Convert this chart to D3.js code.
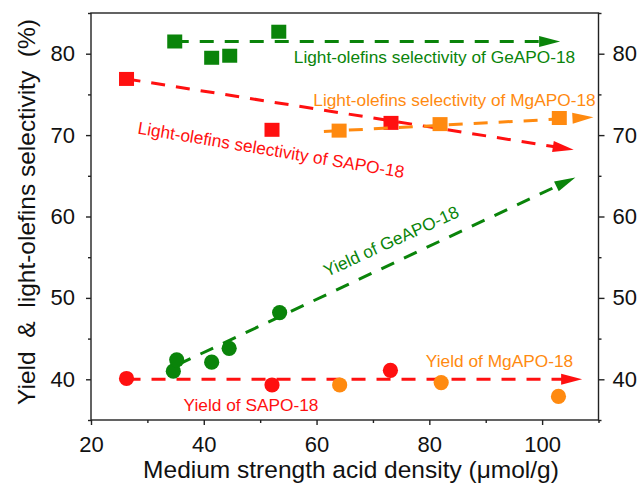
<!DOCTYPE html>
<html>
<head>
<meta charset="utf-8">
<script src="https://cdn.jsdelivr.net/npm/d3@7"></script>
<style>
  body { margin: 0; background: #fff; }
  svg { display: block; font-family: "Liberation Sans", Arial, sans-serif; }
</style>
</head>
<body>
<div id="chart"></div>
<script>
// values
const xTicks = [20, 40, 60, 80, 100];
const xMinor = [30, 50, 70, 90, 110];
const yTicks = [40, 50, 60, 70, 80];
const yMinor = [35, 45, 55, 65, 75, 85];

// light-olefins selectivity (squares)
const geSelX = [34.85, 41.4, 44.6, 53.3];
const geSelY = [81.5, 79.5, 79.75, 82.7];
const saSelX = [26.3, 52.1, 73.2];
const saSelY = [76.9, 70.65, 71.5];
const mgSelX = [64.0, 81.9, 103.05];
const mgSelY = [70.55, 71.35, 72.1];

// yield (circles)
const geYieldX = [34.6, 35.2, 41.4, 44.5, 53.45];
const geYieldY = [41.0, 42.4, 42.1, 43.8, 48.2];
const saYieldX = [26.3, 52.1, 73.1];
const saYieldY = [40.1, 39.3, 41.1];
const mgYieldX = [64.1, 82.1, 102.9];
const mgYieldY = [39.3, 39.6, 37.9];

// hand drawn trend arrows: [start, tip]
const geSelTrend = [[34.85, 81.5], [103.2, 81.5]];
const saSelTrend = [[26.3, 76.9], [105.6, 68.2]];
const mgSelTrend = [[61.3, 70.45], [109.1, 72.2]];
const geYieldTrend = [[35.4, 41.8], [105.9, 64.8]];
const saYieldTrend = [[26.3, 40.0], [107.1, 40.0]];

const green = '#0a840a';
const red = '#ff1010';
const orange = '#ff8a10';

const width = 643;
const height = 488;
const margin = { top: 13, right: 44.5, bottom: 68, left: 91 };

const svg = d3.select('#chart').append('svg')
    .attr('width', width)
    .attr('height', height);

const x = d3.scaleLinear().domain([20, 110]).range([margin.left, width - margin.right]);
const y = d3.scaleLinear().domain([35, 85]).range([height - margin.bottom, margin.top]);

// axes
const axisColor = '#222';
const styleAxis = (g, labels) => {
    g.select('.domain').remove();
    g.selectAll('line').attr('stroke', axisColor).attr('stroke-width', 1.4);
    g.selectAll('text').attr('font-size', 22).attr('fill', '#111')
        .attr('font-family', '"Liberation Sans", Arial, sans-serif');
    if (!labels) g.selectAll('text').remove();
};

svg.append('g')
    .attr('transform', `translate(0,${y(35)})`)
    .call(d3.axisBottom(x).tickValues(xTicks).tickSize(5).tickPadding(11))
    .call(g => styleAxis(g, true));
svg.append('g')
    .attr('transform', `translate(0,${y(35)})`)
    .call(d3.axisBottom(x).tickValues(xMinor).tickSize(3))
    .call(g => styleAxis(g, false));

svg.append('g')
    .attr('transform', `translate(${x(20)},0)`)
    .call(d3.axisLeft(y).tickValues(yTicks).tickSize(5).tickPadding(11))
    .call(g => styleAxis(g, true));
svg.append('g')
    .attr('transform', `translate(${x(20)},0)`)
    .call(d3.axisLeft(y).tickValues(yMinor).tickSize(3))
    .call(g => styleAxis(g, false));

svg.append('g')
    .attr('transform', `translate(${x(110)},0)`)
    .call(d3.axisRight(y).tickValues(yTicks).tickSize(6).tickPadding(8))
    .call(g => styleAxis(g, true));
svg.append('g')
    .attr('transform', `translate(${x(110)},0)`)
    .call(d3.axisRight(y).tickValues(yMinor).tickSize(3))
    .call(g => styleAxis(g, false));

// frame
svg.append('rect')
    .attr('x', x(20))
    .attr('y', y(85))
    .attr('width', x(110) - x(20))
    .attr('height', y(35) - y(85))
    .attr('fill', 'none')
    .attr('stroke', axisColor)
    .attr('stroke-width', 1.4);

// axis titles
svg.append('text')
    .attr('x', 351)
    .attr('y', 478)
    .attr('text-anchor', 'middle')
    .attr('font-size', 24.5)
    .attr('fill', '#111')
    .text('Medium strength acid density (\u03bcmol/g)');

svg.append('text')
    .attr('transform', 'translate(35,212) rotate(-90)')
    .attr('text-anchor', 'middle')
    .attr('font-size', 24.5)
    .attr('fill', '#111')
    .style('white-space', 'pre')
    .text('Yield  &  light-olefins selectivity  (%)');

const drawArrow = (trend, color) => {
    const [p0, p1] = trend;
    const x0 = x(p0[0]), y0 = y(p0[1]);
    const x1 = x(p1[0]), y1 = y(p1[1]);
    const len = Math.hypot(x1 - x0, y1 - y0);
    const ux = (x1 - x0) / len, uy = (y1 - y0) / len;
    const head = 21, half = 5.5;
    const bx = x1 - ux * head, by = y1 - uy * head;
    svg.append('line')
        .attr('x1', x0).attr('y1', y0)
        .attr('x2', bx + ux * 2).attr('y2', by + uy * 2)
        .attr('stroke', color)
        .attr('stroke-width', 3)
        .attr('stroke-dasharray', '14,11');
    svg.append('path')
        .attr('d', d3.line()([
            [x1, y1],
            [bx - uy * half, by + ux * half],
            [bx + uy * half, by - ux * half]
        ]) + 'Z')
        .attr('fill', color);
};

const drawSquares = (xs, ys, color) => {
    svg.append('g').selectAll('rect')
        .data(xs.map((d, i) => [d, ys[i]]))
        .join('rect')
        .attr('x', d => x(d[0]) - 7.5)
        .attr('y', d => y(d[1]) - 7)
        .attr('width', 15)
        .attr('height', 14)
        .attr('fill', color);
};

const drawCircles = (xs, ys, color) => {
    svg.append('g').selectAll('circle')
        .data(xs.map((d, i) => [d, ys[i]]))
        .join('circle')
        .attr('cx', d => x(d[0]))
        .attr('cy', d => y(d[1]))
        .attr('r', 7.6)
        .attr('fill', color);
};

drawArrow(saSelTrend, red);
drawSquares(saSelX, saSelY, red);
drawArrow(mgSelTrend, orange);
drawSquares(mgSelX, mgSelY, orange);
drawArrow(geSelTrend, green);
drawSquares(geSelX, geSelY, green);

drawArrow(saYieldTrend, red);
drawCircles(saYieldX, saYieldY, red);
drawCircles(mgYieldX, mgYieldY, orange);
drawArrow(geYieldTrend, green);
drawCircles(geYieldX, geYieldY, green);

// annotations
const note = (txt, color, tx, ty, angle, anchor) => {
    svg.append('text')
        .attr('transform', `translate(${tx},${ty}) rotate(${angle})`)
        .attr('text-anchor', anchor)
        .attr('font-size', 17.3)
        .attr('fill', color)
        .text(txt);
};

note('Light-olefins selectivity of GeAPO-18', green, 434.5, 62.5, 0, 'middle');
note('Light-olefins selectivity of MgAPO-18', orange, 454.5, 105.5, 0, 'middle');
note('Light-olefins selectivity of SAPO-18', red, 137, 133.5, 9.5, 'start');
note('Yield of GeAPO-18', green, 327, 277, -24.5, 'start');
note('Yield of MgAPO-18', orange, 499.5, 367, 0, 'middle');
note('Yield of SAPO-18', red, 251, 411, 0, 'middle');
</script>
</body>
</html>
